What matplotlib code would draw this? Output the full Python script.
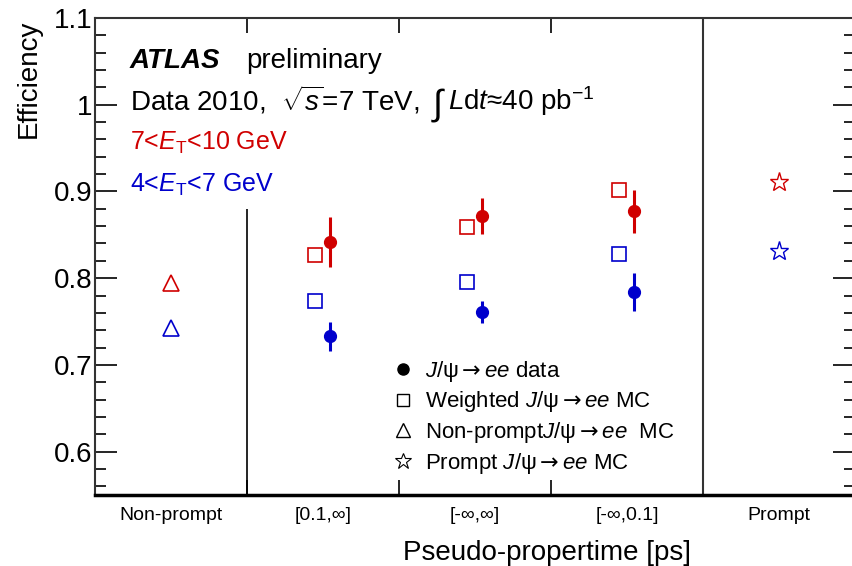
import matplotlib.pyplot as plt
from matplotlib.lines import Line2D
from matplotlib.ticker import MultipleLocator

plt.rcParams['font.family'] = ['Liberation Sans', 'DejaVu Sans']
plt.rcParams['mathtext.fontset'] = 'custom'
plt.rcParams['mathtext.rm'] = 'Liberation Sans'
plt.rcParams['mathtext.it'] = 'Liberation Sans:italic'
plt.rcParams['mathtext.bf'] = 'Liberation Sans:bold'
plt.rcParams['mathtext.sf'] = 'DejaVu Sans'

# pseudo-propertime bins
categories = ['Non-prompt', '[0.1,∞]', '[-∞,∞]', '[-∞,0.1]', 'Prompt']
bin_centers = [0.5, 1.5, 2.5, 3.5, 4.5]

# 7 < ET < 10 GeV (red)
nonprompt_mc_hi = 0.795
weighted_mc_hi = [0.827, 0.859, 0.902]
data_hi = [0.842, 0.872, 0.877]
data_err_hi = [0.029, 0.021, 0.025]
prompt_mc_hi = 0.911

# 4 < ET < 7 GeV (blue)
nonprompt_mc_lo = 0.743
weighted_mc_lo = [0.774, 0.796, 0.828]
data_lo = [0.733, 0.761, 0.784]
data_err_lo = [0.017, 0.013, 0.022]
prompt_mc_lo = 0.831

RED = '#d00000'
BLUE = '#0000cc'

fig = plt.figure(figsize=(8.52, 5.66), dpi=100)
ax = fig.add_axes([95 / 852, 71 / 566, 760 / 852, 477 / 566])
ax.set_xlim(0, 5)
ax.set_ylim(0.55, 1.1)

mid = bin_centers[1:4]
sq_x = [c - 0.05 for c in mid]
dat_x = [c + 0.045 for c in mid]

# non-prompt MC
ax.plot(bin_centers[0], nonprompt_mc_hi, '^', ms=11, mfc='none', mec=RED, mew=1.2)
ax.plot(bin_centers[0], nonprompt_mc_lo, '^', ms=11, mfc='none', mec=BLUE, mew=1.2)

# weighted MC
ax.plot(sq_x, weighted_mc_hi, 's', ms=10, mfc='none', mec=RED, mew=1.2, ls='none')
ax.plot(sq_x, weighted_mc_lo, 's', ms=10, mfc='none', mec=BLUE, mew=1.2, ls='none')

# data
ax.errorbar(dat_x, data_hi, yerr=data_err_hi, fmt='o', color=RED, ms=8.5,
            elinewidth=2.2, capsize=0)
ax.errorbar(dat_x, data_lo, yerr=data_err_lo, fmt='o', color=BLUE, ms=8.5,
            elinewidth=2.2, capsize=0)

# prompt MC
ax.plot(bin_centers[4], prompt_mc_hi, '*', ms=14, mfc='none', mec=RED, mew=1.0)
ax.plot(bin_centers[4], prompt_mc_lo, '*', ms=14, mfc='none', mec=BLUE, mew=1.0)

# separators
ax.vlines(1, 0.55, 0.88, color='black', lw=1.2)
ax.vlines(4, 0.55, 1.1, color='#333333', lw=1.5)

# axes styling
for s in ['left', 'top', 'right']:
    ax.spines[s].set_linewidth(1.5)
    ax.spines[s].set_color('#333333')
ax.spines['bottom'].set_linewidth(2.5)

ax.set_yticks([0.6, 0.7, 0.8, 0.9, 1.0, 1.1])
ax.set_yticklabels(['0.6', '0.7', '0.8', '0.9', '1', '1.1'])
ax.yaxis.set_minor_locator(MultipleLocator(0.02))
ax.tick_params(axis='y', which='major', direction='in', length=16, width=1.2,
               left=True, right=True, labelsize=20, pad=2)
ax.tick_params(axis='y', which='minor', direction='in', length=8, width=1.2,
               left=True, right=True)

ax.set_xticks([1, 2, 3, 4])
ax.set_xticks(bin_centers, categories, minor=True)
ax.tick_params(axis='x', which='major', direction='in', length=11, width=1.2,
               top=True, bottom=True, labelbottom=False)
ax.tick_params(axis='x', which='minor', length=0, labelsize=14, pad=9)

ax.set_ylabel('Efficiency', fontsize=20, rotation=90, ha='right', va='top',
              rotation_mode='default')
ax.yaxis.set_label_coords(-0.07, 0.996)
ax.set_xlabel('Pseudo-propertime [ps]', fontsize=20)
ax.xaxis.set_label_coords(0.595, -0.094)

# annotations
ax.text(0.046, 0.895, 'ATLAS', transform=ax.transAxes, fontsize=20,
        fontweight='bold', fontstyle='italic', va='baseline')
ax.text(0.199, 0.895, 'preliminary', transform=ax.transAxes, fontsize=20,
        va='baseline')
ax.text(0.046, 0.807, r'Data 2010,  $\sqrt{s}$=7 TeV,',
        transform=ax.transAxes, fontsize=20, va='baseline')
ax.text(0.444, 0.797, '∫', transform=ax.transAxes, fontsize=26, va='baseline')
ax.text(0.465, 0.807, r'$L$d$t$≈40 pb$^{-1}$',
        transform=ax.transAxes, fontsize=20, va='baseline')
ax.text(0.046, 0.723, r'7<$E_{\mathrm{T}}$<10 GeV', transform=ax.transAxes,
        fontsize=18, color=RED, va='baseline')
ax.text(0.046, 0.635, r'4<$E_{\mathrm{T}}$<7 GeV', transform=ax.transAxes,
        fontsize=18, color=BLUE, va='baseline')

handles = [
    Line2D([], [], marker='o', ls='none', color='black', ms=8),
    Line2D([], [], marker='s', ls='none', mfc='none', mec='black', ms=9, mew=1),
    Line2D([], [], marker='^', ls='none', mfc='none', mec='black', ms=10, mew=1),
    Line2D([], [], marker='*', ls='none', mfc='none', mec='black', ms=12, mew=0.8),
]
arrow = r'$\mathsf{\rightarrow}$'
labels = [
    '$J/$ψ' + arrow + '$ee$ data',
    'Weighted $J/$ψ' + arrow + '$ee$ MC',
    'Non-prompt$J/$ψ' + arrow + '$ee$  MC',
    'Prompt $J/$ψ' + arrow + '$ee$ MC',
]
ax.legend(handles, labels, loc='upper left', bbox_to_anchor=(0.39, 0.286),
          frameon=False, fontsize=16, handlelength=1.0, handletextpad=0.5,
          labelspacing=0.26, borderpad=0, borderaxespad=0)

fig.savefig('out.png', dpi=100)
